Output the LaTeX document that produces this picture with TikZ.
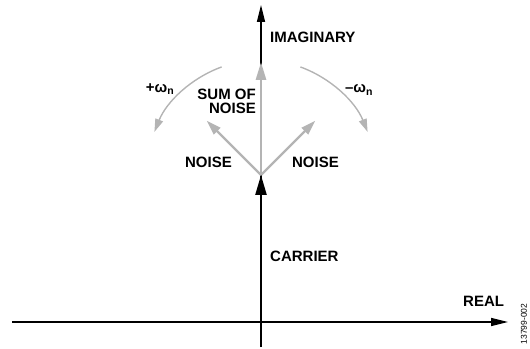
\documentclass[tikz,border=0pt]{standalone}
\usepackage{fontspec}
\setmainfont{Liberation Sans}
\usepackage{xcolor}
\usetikzlibrary{positioning, arrows.meta, calc}
\definecolor{phink}{HTML}{000000}
\definecolor{phgray}{HTML}{B4B4B4}

\begin{document}
\begin{tikzpicture}[
  x=1pt, y=1pt,
  lbl/.style={inner sep=0pt, font=\fontsize{15}{14.3}\selectfont\bfseries, text=phink},
  axis/.style={line width=1.4pt, phink},
  axarr/.style={axis, -{Triangle[length=17pt, width=8pt]}},
  carr/.style={line width=2.4pt, phink, -{Triangle[length=20pt, width=11pt]}},
  noisearr/.style={line width=2.2pt, phgray, -{Triangle[length=15pt, width=9pt]}},
  sumarr/.style={line width=2.8pt, phgray, -{Triangle[length=18pt, width=10pt]}},
  rotarr/.style={line width=1.4pt, phgray, -{Triangle[length=13pt, width=8pt]}}
]
  \useasboundingbox (0,0) rectangle (530,348);

  % axes
  \coordinate (xl) at (12,26);
  \coordinate (xr) at (508,26);
  \coordinate (yb) at (261,1);
  \coordinate (yt) at (261,343);
  \coordinate (O) at (261,173);
  \coordinate (orig) at (261,26);
  \draw[axarr] (xl) -- (xr);
  \draw[axarr] (yb) -- (yt);

  % carrier and noise phasors
  \draw[carr] (orig) -- (O);
  \coordinate (nl) at ($(O)+(135:77)$);
  \coordinate (nr) at ($(O)+(45:77)$);
  \coordinate (st) at (261,286);
  \draw[noisearr] (O) -- (nl);
  \draw[noisearr] (O) -- (nr);
  \draw[sumarr] (O) -- (st);

  % rotation
  \draw[rotarr] (O) ++(110:115) arc[start angle=110, end angle=158, radius=115];
  \draw[rotarr] (O) ++(70:115) arc[start angle=70, end angle=22, radius=115];

  % labels
  \node[lbl, anchor=west] (imag) at (270,310.5) {IMAGINARY};
  \node[lbl, anchor=west] (real) at (463,46.3) {REAL};
  \node[lbl, anchor=west] (carrier) at (270,92) {CARRIER};
  \node[lbl] (noisel) at (208.5,185.3) {NOISE};
  \node[lbl] (noiser) at (315.5,185.3) {NOISE};
  \node[lbl, anchor=east, align=right] (sum) at (256,247) {SUM OF\\NOISE};
  \node[lbl] (wpos) at (160,259) {+ω\textsubscript{n}};
  \node[lbl] (wneg) at (359,258) {–ω\textsubscript{n}};
  \node[inner sep=0pt, rotate=90, font=\fontsize{8.5}{9}\selectfont] (fig) at (524,24) {13799-002};
\end{tikzpicture}
\end{document}
